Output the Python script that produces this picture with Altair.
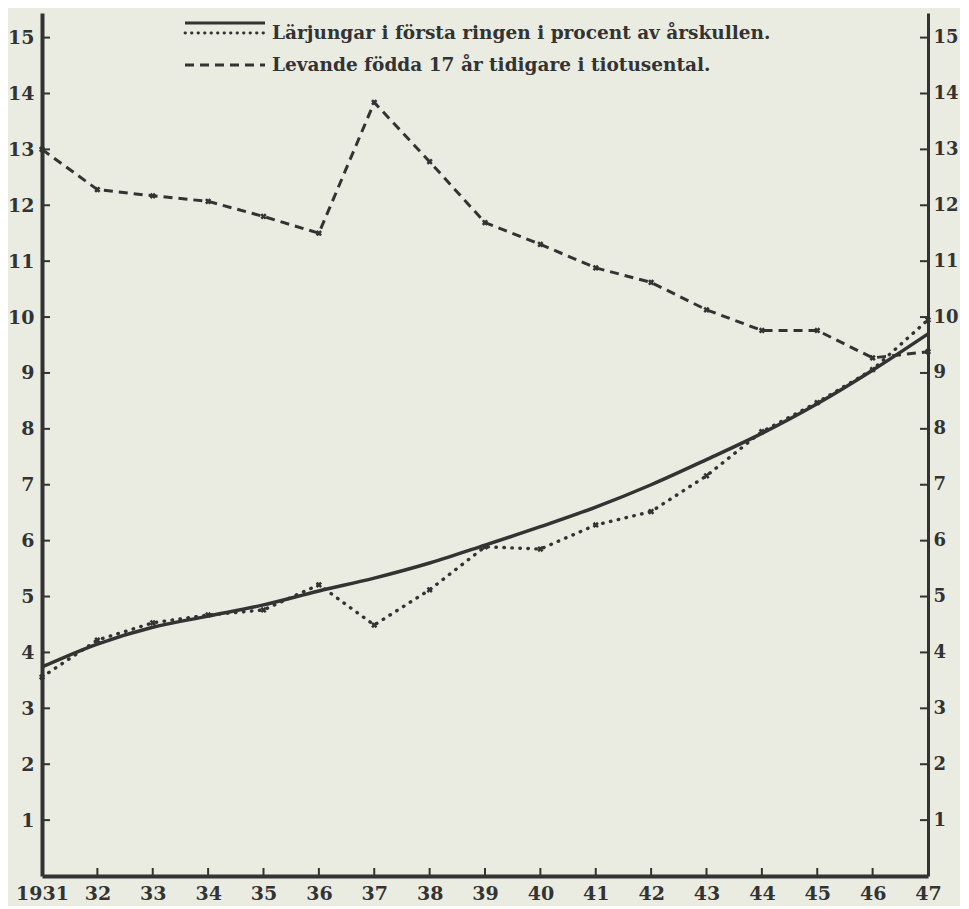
import altair as alt
import pandas as pd

# ---- data ----
years = list(range(1931, 1948))
pupils = [3.56, 4.22, 4.53, 4.67, 4.76, 5.21, 4.49, 5.12, 5.89, 5.85, 6.28, 6.52, 7.16, 7.95, 8.47, 9.06, 9.95]
births = [13.0, 12.28, 12.17, 12.07, 11.8, 11.5, 13.84, 12.78, 11.69, 11.3, 10.88, 10.62, 10.13, 9.76, 9.76, 9.27, 9.38]
trend = [3.74, 4.15, 4.45, 4.65, 4.85, 5.1, 5.33, 5.6, 5.92, 6.25, 6.6, 7.0, 7.45, 7.92, 8.45, 9.05, 9.7]
y_ticks = list(range(1, 16))
x_ticks = years
legend_labels = [
    "Lärjungar i första ringen i procent av årskullen.",
    "Levande födda 17 år tidigare i tiotusental.",
]

INK = "#333333"
FONT = "DejaVu Serif"
BG = "#eaece2"

df = pd.DataFrame({"year": years, "pupils": pupils, "births": births, "trend": trend})

xscale = alt.Scale(domain=[1931, 1947], nice=False, zero=False)
yscale = alt.Scale(domain=[0, 15.44], nice=False, zero=True)

X = alt.X(
    "year:Q",
    scale=xscale,
    title=None,
    axis=alt.Axis(
        values=x_ticks,
        labelExpr="datum.value == 1931 ? '1931' : substring('' + datum.value, 2, 4)",
        ticks=False,
        grid=False,
        domainColor=INK,
        domainWidth=4,
        labelFont=FONT,
        labelFontWeight="bold",
        labelFontSize=19,
        labelColor=INK,
        labelPadding=8,
        labelFlush=False,
    ),
)

def Yf(field):
    return alt.Y(field, type="quantitative", scale=yscale, title=None, axis=None)

y_left_axis = alt.Axis(
    values=y_ticks, ticks=False, grid=False, orient="left",
    domainColor=INK, domainWidth=4, labelFont=FONT, labelFontWeight="bold",
    labelFontSize=19, labelColor=INK, labelPadding=8,
)
y_right_axis = alt.Axis(
    values=y_ticks, ticks=False, grid=False, orient="right",
    domainColor=INK, domainWidth=3, labelFont=FONT, labelFontWeight="bold",
    labelFontSize=18, labelColor=INK, labelPadding=5,
)

base = alt.Chart(df)

births_line = base.mark_line(color=INK, strokeWidth=3, strokeDash=[9, 6]).encode(
    x=X, y=alt.Y("births:Q", scale=yscale, title=None, axis=y_left_axis)
)
pupils_line = base.mark_line(color=INK, strokeWidth=3.4, strokeDash=[0.5, 7.5], strokeCap="round").encode(
    x=X, y=Yf("pupils")
)
trend_line = base.mark_line(color=INK, strokeWidth=3.5, interpolate="monotone").encode(
    x=X, y=Yf("trend")
)
births_pts = base.mark_point(shape="cross", angle=45, filled=True, size=40, color=INK, opacity=1).encode(
    x=X, y=Yf("births")
)
pupils_pts = base.mark_point(shape="cross", angle=45, filled=True, size=40, color=INK, opacity=1).encode(
    x=X, y=Yf("pupils")
)

# axis ticks pointing into the plot
left_ticks = alt.Chart(pd.DataFrame({"year": [1931] * len(y_ticks), "v": y_ticks})).mark_tick(
    orient="horizontal", size=8, thickness=2, xOffset=4, color=INK, opacity=1
).encode(x=X, y=Yf("v"))
right_ticks = alt.Chart(pd.DataFrame({"year": [1947] * len(y_ticks), "v": y_ticks})).mark_tick(
    orient="horizontal", size=8, thickness=2, xOffset=-4, color=INK, opacity=1
).encode(x=X, y=alt.Y("v:Q", scale=yscale, title=None, axis=y_right_axis))
bottom_ticks = alt.Chart(pd.DataFrame({"year": x_ticks[1:-1], "v": [0] * (len(x_ticks) - 2)})).mark_tick(
    orient="vertical", size=8, thickness=2, yOffset=-4, color=INK, opacity=1
).encode(x=X, y=Yf("v"))

# hand-drawn style legend at the top
one = pd.DataFrame({"k": [0]})
leg_solid = alt.Chart(one).mark_rule(color=INK, strokeWidth=3).encode(
    x=alt.value(143), x2=alt.value(223), y=alt.value(10)
)
leg_dotted = alt.Chart(one).mark_rule(color=INK, strokeWidth=2.8, strokeDash=[0.5, 6], strokeCap="round").encode(
    x=alt.value(143), x2=alt.value(223), y=alt.value(20)
)
leg_dashed = alt.Chart(one).mark_rule(color=INK, strokeWidth=3, strokeDash=[9, 6]).encode(
    x=alt.value(143), x2=alt.value(223), y=alt.value(52)
)
leg_text1 = alt.Chart(one).mark_text(
    align="left", baseline="middle", font=FONT, fontWeight="bold", fontSize=18.5, color=INK
).encode(x=alt.value(230), y=alt.value(20), text=alt.value(legend_labels[0]))
leg_text2 = alt.Chart(one).mark_text(
    align="left", baseline="middle", font=FONT, fontWeight="bold", fontSize=18.5, color=INK
).encode(x=alt.value(230), y=alt.value(52), text=alt.value(legend_labels[1]))

chart = alt.layer(
    births_line, pupils_line, trend_line, births_pts, pupils_pts,
    left_ticks, right_ticks, bottom_ticks,
    leg_solid, leg_dotted, leg_dashed, leg_text1, leg_text2,
).resolve_axis(y="independent").properties(
    width=886,
    height=863,
    autosize=alt.AutoSizeParams(type="none"),
    padding={"left": 34, "top": 5, "right": 32, "bottom": 30},
    background=BG,
).configure_view(stroke=None)

chart.save("out.html", embed_options={"renderer": "svg", "actions": False})
